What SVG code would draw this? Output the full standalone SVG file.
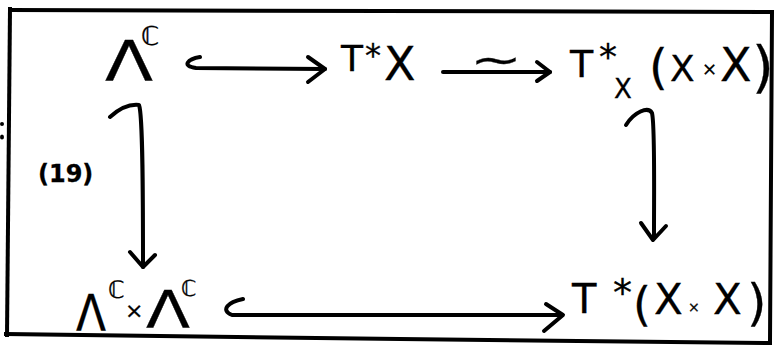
<svg xmlns="http://www.w3.org/2000/svg" width="778" height="349" viewBox="0 0 778 349">
<defs>
<style>
.t{font-family:"DejaVu Sans","Liberation Sans",sans-serif;fill:#000;stroke:#000;stroke-width:0.3}
.ln{fill:none;stroke:#000;stroke-width:4;stroke-linecap:round;stroke-linejoin:round}
.fr{fill:none;stroke:#000;stroke-width:4;stroke-linecap:square}
</style>
</defs>
<rect width="778" height="349" fill="#fff"/>
<g id="frame">
<path class="fr" d="M10,10 L772,12"/>
<path class="fr" d="M772,12 L770,343"/>
<path class="fr" d="M6,334 L400,339 L770,343"/>
<path class="fr" d="M10,9 L7,335"/>
<ellipse cx="2" cy="124" rx="2" ry="2"/>
<ellipse cx="2" cy="137" rx="2" ry="2.5"/>
</g>
<g id="n_lambda">
<text class="t" x="105" y="80" font-size="56" textLength="48" lengthAdjust="spacingAndGlyphs">Λ</text>
<text class="t" x="141" y="45" font-size="26">ℂ</text>
</g>
<g id="n_TX">
<text class="t" x="341" y="71" font-size="36">T</text>
<text class="t" x="365" y="66" font-size="32">*</text>
<text class="t" x="384" y="80" font-size="46">X</text>
</g>
<g id="n_TXXX">
<text class="t" x="570" y="77" font-size="38">T</text>
<text class="t" x="599" y="69" font-size="36">*</text>
<text class="t" x="614" y="98" font-size="26">X</text>
<text class="t" x="649" y="84" font-size="48">(</text>
<text class="t" x="670" y="81" font-size="36">X</text>
<text class="t" x="702" y="75" font-size="18">×</text>
<text class="t" x="720" y="81" font-size="46">X</text>
<text class="t" x="752" y="86" font-size="56">)</text>
</g>
<g id="n_lambda2">
<text class="t" x="76" y="330" font-size="50" textLength="30" lengthAdjust="spacingAndGlyphs">Λ</text>
<text class="t" x="108" y="298" font-size="24">ℂ</text>
<text class="t" x="125" y="318" font-size="22">×</text>
<text class="t" x="146" y="328" font-size="52" textLength="44" lengthAdjust="spacingAndGlyphs">Λ</text>
<text class="t" x="181" y="296" font-size="22">ℂ</text>
</g>
<g id="n_TXX">
<text class="t" x="572" y="313" font-size="40">T</text>
<text class="t" x="613" y="306" font-size="38">*</text>
<text class="t" x="633" y="320" font-size="46">(</text>
<text class="t" x="654" y="314" font-size="42">X</text>
<text class="t" x="688" y="312" font-size="14">×</text>
<text class="t" x="713" y="314" font-size="42">X</text>
<text class="t" x="747" y="320" font-size="50">)</text>
</g>
<g id="label19">
<text class="t" x="38" y="182" font-size="24" font-weight="bold">(19)</text>
</g>
<g id="connectors">
<path class="ln" d="M200,57 C188,59 181,66 196,68 L325,69"/>
<path class="ln" d="M308,57 L325,69 L308,82"/>
<path class="ln" d="M443,72 L550,72"/>
<path class="ln" d="M537,62 L550,72 L537,81"/>
<text class="t" x="470" y="74" font-size="46" stroke-width="1.5" transform="translate(470,74) scale(1.35,0.9) translate(-470,-74)">~</text>
<path class="ln" d="M626,125 C634,112 648,106 652,113 C655,125 654,180 654,238"/>
<path class="ln" d="M641,223 L653,240 L666,226"/>
<path class="ln" d="M110,117 C120,108 130,104 139,105 C143,115 143,200 143,267"/>
<path class="ln" d="M130,252 L143,267 L155,255"/>
<path class="ln" d="M243,299 C228,302 220,310 232,315 L562,315"/>
<path class="ln" d="M546,304 L563,315 L544,331"/>
</g>
</svg>
